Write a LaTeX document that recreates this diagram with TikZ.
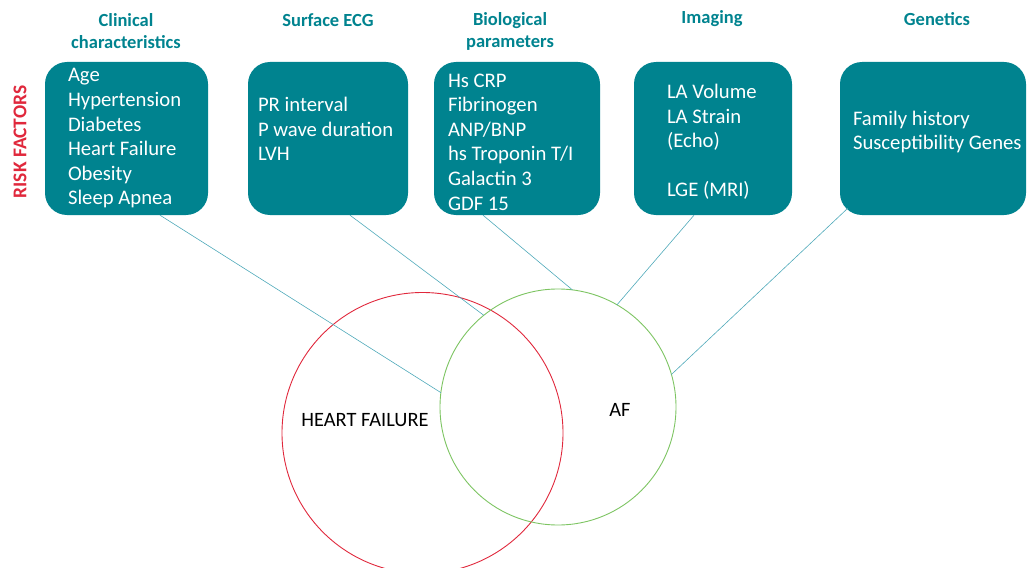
\documentclass[tikz,border=0pt]{standalone}
\usepackage{fontspec}
\setmainfont{Carlito}
\usetikzlibrary{positioning}
\definecolor{petrol}{HTML}{00838F}
\definecolor{petrolline}{HTML}{4FA9BA}
\definecolor{rojo}{HTML}{E0283C}
\definecolor{verdeaf}{HTML}{7DC462}

\begin{document}
\begin{tikzpicture}[x=1pt,y=-1pt,
  riskbox/.style={fill=petrol,rounded corners=22pt,inner sep=0pt,minimum height=153pt},
  boxtext/.style={text=white,align=left,anchor=west,inner sep=0pt,font=\fontsize{20.7}{24.6}\selectfont},
  heading/.style={text=petrol,align=center,inner sep=0pt,font=\fontsize{18.5}{22}\selectfont\bfseries},
  link/.style={draw=petrolline,line width=0.6pt},
  venn/.style={circle,draw,line width=0.9pt,inner sep=0pt,outer sep=0pt}]
\useasboundingbox (0,0) rectangle (1027,567);
\clip (0,0) rectangle (1027,567);

% side label
\node[rotate=90,text=rojo,inner sep=0pt,font=\fontsize{19.5}{22}\selectfont\bfseries] (riesgo) at (20,142) {RISK FACTORS};

% headings
\node[heading] (hclin) at (126,31) {Clinical\\characteristics};
\node[heading] (hecg) at (328,20) {Surface ECG};
\node[heading] (hbio) at (510,31) {Biological\\parameters};
\node[heading] (himg) at (712,19) {Imaging};
\node[heading] (hgen) at (937,19) {Genetics};

% circles
\node[venn,draw=rojo,minimum size=281pt] (hf) at (422.5,433) {};
\node[venn,draw=verdeaf,minimum size=236pt] (af) at (558,407) {};
\node[font=\fontsize{20.4}{24}\selectfont] (hflabel) at (365,420) {HEART FAILURE};
\node[font=\fontsize{20.4}{24}\selectfont] (aflabel) at (620,410) {AF};

% boxes
\node[riskbox,minimum width=163pt] (clin) at (126.5,138.5) {};
\node[riskbox,minimum width=160pt] (ecg) at (328,138.5) {};
\node[riskbox,minimum width=166pt] (bio) at (517,138.5) {};
\node[riskbox,minimum width=158pt] (img) at (713,138.5) {};
\node[riskbox,minimum width=186pt] (gen) at (933,138.5) {};

\node[boxtext] (tclin) at ([xshift=23pt]clin.west)
  {Age\\Hypertension\\Diabetes\\Heart Failure\\Obesity\\Sleep Apnea};
\node[boxtext] (tecg) at ([xshift=10pt,yshift=9.5pt]ecg.west)
  {PR interval\\P wave duration\\LVH};
\node[boxtext] (tbio) at ([xshift=14pt,yshift=-3.5pt]bio.west)
  {Hs CRP\\Fibrinogen\\ANP/BNP\\hs Troponin T/I\\Galactin 3\\GDF 15};
\node[boxtext] (timg) at ([xshift=33pt,yshift=-3.5pt]img.west)
  {LA Volume\\LA Strain\\(Echo)\\[24.6pt]LGE (MRI)};
\node[boxtext] (tgen) at ([xshift=13pt,yshift=6.5pt]gen.west)
  {Family history\\Susceptibility Genes};

% connectors
\draw[link] ([xshift=33.5pt]clin.south) -- (af.173);
\draw[link] ([xshift=22pt]ecg.south) -- (af.129);
\draw[link] ([xshift=-34pt]bio.south) -- (af.83);
\draw[link] ([xshift=-19pt]img.south) -- (af.60);
\draw[link] ([xshift=8pt,yshift=7pt]gen.south west) -- (af.16);
\end{tikzpicture}
\end{document}
